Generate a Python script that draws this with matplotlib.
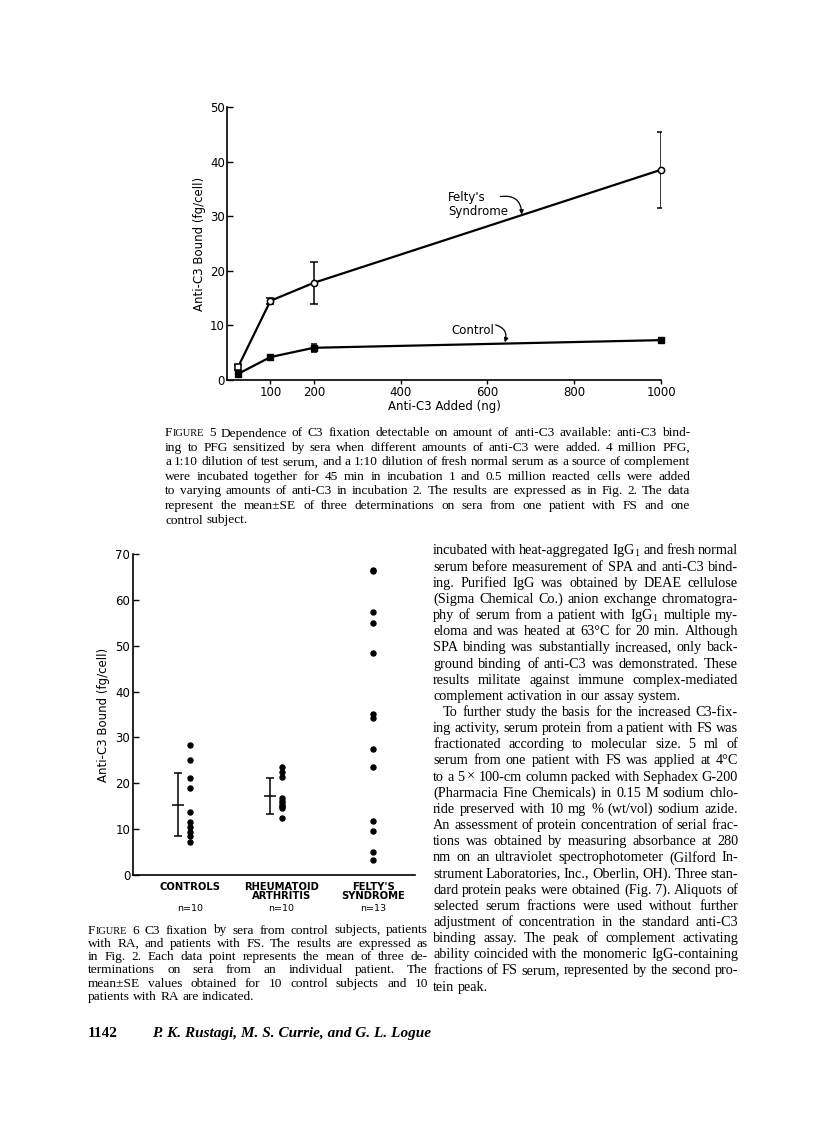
import matplotlib
matplotlib.use('Agg')
import matplotlib.pyplot as plt
import numpy as np

plt.rcParams['mathtext.fontset'] = 'custom'
plt.rcParams['mathtext.rm'] = 'Liberation Serif'
plt.rcParams['mathtext.it'] = 'Liberation Serif:italic'

# Figure 5: anti-C3 bound vs anti-C3 added (mean +- SE)
added_ng = [25, 100, 200, 1000]
felty_mean = [2.3, 14.5, 17.8, 38.5]
felty_se = [0.4, 0.6, 3.9, 7.0]
control_mean = [1.1, 4.2, 5.9, 7.3]
control_se = [0.3, 0.3, 0.7, 0.4]
fig5_xticks = [100, 200, 400, 600, 800, 1000]

# Figure 6: anti-C3 bound per patient group
group_names = ['CONTROLS', 'RHEUMATOID\nARTHRITIS', "FELTY'S\nSYNDROME"]
group_n = ['n=10', 'n=10', 'n=13']
controls = [28.3, 25.1, 21.1, 18.9, 13.8, 11.5, 10.5, 9.3, 8.6, 7.2]
ra = [23.6, 22.5, 21.4, 16.9, 16.2, 15.6, 15.1, 15.0, 14.7, 12.4]
fs = [66.6, 66.2, 57.4, 54.9, 48.5, 35.1, 34.3, 27.5, 23.6, 11.8, 9.6, 5.1, 3.2]
group_mean = [15.3, 17.2]
group_se = [6.9, 3.85]

caption5 = [
    "FIGURE 5  Dependence of C3 fixation detectable on amount of anti-C3 available: anti-C3 bind-",
    "ing to PFG sensitized by sera when different amounts of anti-C3 were added. 4 million PFG,",
    "a 1:10 dilution of test serum, and a 1:10 dilution of fresh normal serum as a source of complement",
    "were incubated together for 45 min in incubation 1 and 0.5 million reacted cells were added",
    "to varying amounts of anti-C3 in incubation 2. The results are expressed as in Fig. 2. The data",
    "represent the mean\u00b1SE of three determinations on sera from one patient with FS and one",
    "control subject.",
]
caption6 = [
    "FIGURE 6  C3 fixation by sera from control subjects, patients",
    "with RA, and patients with FS. The results are expressed as",
    "in Fig. 2. Each data point represents the mean of three de-",
    "terminations on sera from an individual patient. The",
    "mean\u00b1SE values obtained for 10 control subjects and 10",
    "patients with RA are indicated.",
]
body = [
    "incubated with heat-aggregated IgG$_1$ and fresh normal",
    "serum before measurement of SPA and anti-C3 bind-",
    "ing. Purified IgG was obtained by DEAE cellulose",
    "(Sigma Chemical Co.) anion exchange chromatogra-",
    "phy of serum from a patient with IgG$_1$ multiple my-",
    "eloma and was heated at 63\u00b0C for 20 min. Although",
    "SPA binding was substantially increased, only back-",
    "ground binding of anti-C3 was demonstrated. These",
    "results militate against immune complex-mediated",
    "complement activation in our assay system.",
    "To further study the basis for the increased C3-fix-",
    "ing activity, serum protein from a patient with FS was",
    "fractionated according to molecular size. 5 ml of",
    "serum from one patient with FS was applied at 4\u00b0C",
    "to a 5 \u00d7 100-cm column packed with Sephadex G-200",
    "(Pharmacia Fine Chemicals) in 0.15 M sodium chlo-",
    "ride preserved with 10 mg % (wt/vol) sodium azide.",
    "An assessment of protein concentration of serial frac-",
    "tions was obtained by measuring absorbance at 280",
    "nm on an ultraviolet spectrophotometer (Gilford In-",
    "strument Laboratories, Inc., Oberlin, OH). Three stan-",
    "dard protein peaks were obtained (Fig. 7). Aliquots of",
    "selected serum fractions were used without further",
    "adjustment of concentration in the standard anti-C3",
    "binding assay. The peak of complement activating",
    "ability coincided with the monomeric IgG-containing",
    "fractions of FS serum, represented by the second pro-",
    "tein peak.",
]
body_last = [9, 27]
body_indent = [10]

W, H = 816, 1122
fig = plt.figure(figsize=(W / 100, H / 100), dpi=100)
renderer = fig.canvas.get_renderer()


def box(l, t, r, b):
    return [l / W, 1 - b / H, (r - l) / W, (b - t) / H]


def pieces(word, size):
    if word == 'FIGURE':
        return [('F', size), ('IGURE', size * 0.78)]
    return [(word, size)]


def width(s, size, **kw):
    t = fig.text(0, 0, s, fontsize=size, **kw)
    w = t.get_window_extent(renderer).width
    t.remove()
    return w


def put_line(line, x0, x1, y, size, justify=True, **kw):
    words = line.split()
    while True:
        parts = [pieces(w, size) for w in words]
        widths = [[width(s, sz, **kw) for s, sz in p] for p in parts]
        total = sum(sum(w) for w in widths)
        space = width('n n', size, **kw) - width('nn', size, **kw)
        # shrink a line that cannot fit with tight spacing
        if not justify or total + 0.6 * space * (len(words) - 1) <= x1 - x0:
            break
        size *= 0.98
    gap = space
    if justify and len(words) > 1:
        gap = (x1 - x0 - total) / (len(words) - 1)
    x = x0
    for p, ws in zip(parts, widths):
        for (s, sz), w in zip(p, ws):
            fig.text(x / W, 1 - (y + 3.5) / H, s, fontsize=sz,
                     ha='left', va='baseline', **kw)
            x += w
        x += gap


serif = dict(family='Liberation Serif')

# ---- Figure 5 ----
ax1 = fig.add_axes(box(227, 107, 661, 380))
ax1.plot(added_ng, felty_mean, color='black', lw=1.6)
ax1.plot(added_ng, control_mean, color='black', lw=1.6)
ax1.errorbar(added_ng, felty_mean, yerr=felty_se, fmt='none', ecolor='black',
             elinewidth=1.1, capsize=3, capthick=1.1)
ax1.errorbar(added_ng, control_mean, yerr=control_se, fmt='none', ecolor='black',
             elinewidth=1.1, capsize=2.5, capthick=1.1)
ax1.plot(added_ng[:1], felty_mean[:1], 's', mfc='white', mec='black', ms=4.5,
         mew=1.1, clip_on=False, zorder=4)
ax1.plot(added_ng[1:], felty_mean[1:], 'o', mfc='white', mec='black', ms=4.5,
         mew=1.1, clip_on=False, zorder=4)
ax1.plot(added_ng, control_mean, 's', color='black', ms=4.5, clip_on=False, zorder=4)

ax1.text(509, 32.1, "Felty's\nSyndrome", fontsize=8.5, ha='left', va='center',
         linespacing=1.05)
ax1.annotate('', xy=(679, 30.3), xytext=(630, 33.6),
             arrowprops=dict(arrowstyle='-|>', connectionstyle='arc3,rad=-0.55',
                             lw=0.9, color='black', mutation_scale=6,
                             shrinkA=0, shrinkB=0))
ax1.text(518, 9.0, 'Control', fontsize=8.5, ha='left', va='center')
ax1.annotate('', xy=(640, 6.9), xytext=(619, 10.1),
             arrowprops=dict(arrowstyle='-|>', connectionstyle='arc3,rad=-0.5',
                             lw=0.9, color='black', mutation_scale=6,
                             shrinkA=0, shrinkB=0))

ax1.set_xlim(0, 1000)
ax1.set_ylim(0, 50)
ax1.set_xticks(fig5_xticks)
ax1.set_yticks(np.arange(0, 51, 10))
ax1.spines[['top', 'right']].set_visible(False)
for s in ax1.spines.values():
    s.set_linewidth(1.2)
ax1.tick_params(axis='y', direction='in', length=4, width=1, pad=1.5, labelsize=8.5)
ax1.tick_params(axis='x', direction='out', length=3, width=1, pad=1.5, labelsize=8.5)
ax1.set_xlabel('Anti-C3 Added (ng)', fontsize=8.5)
ax1.set_ylabel('Anti-C3 Bound (fg/cell)', fontsize=8.5)
ax1.xaxis.set_label_coords(0.5, -0.075)
ax1.yaxis.set_label_coords(-0.048, 0.5)

for i, line in enumerate(caption5):
    put_line(line, 165, 690, 433 + 14.5 * i, 9.6,
             justify=(i < len(caption5) - 1), **serif)

# ---- Figure 6 ----
ax2 = fig.add_axes(box(133, 554, 415, 875))
for i, vals in enumerate([controls, ra, fs]):
    ax2.plot([i] * len(vals), vals, 'o', color='black', ms=3.6, clip_on=False)
ax2.errorbar(np.arange(len(group_mean)) - 0.13, group_mean, yerr=group_se,
             fmt='_', color='black', ms=8, mew=1.1, elinewidth=1.1,
             capsize=3, capthick=1.1)

ax2.set_xlim(-0.623, 2.459)
ax2.set_ylim(0, 70)
ax2.set_yticks(np.arange(0, 71, 10))
ax2.set_xticks(range(len(group_names)))
ax2.set_xticklabels(group_names, family='DejaVu Sans', fontweight='bold',
                    fontsize=7.2, linespacing=0.9)
ax2.spines[['top', 'right']].set_visible(False)
for s in ax2.spines.values():
    s.set_linewidth(1.2)
ax2.tick_params(axis='x', length=0, pad=5)
ax2.tick_params(axis='y', direction='in', length=4, width=1, pad=2, labelsize=8.5)
ax2.set_ylabel('Anti-C3 Bound (fg/cell)', fontsize=8.5)
ax2.yaxis.set_label_coords(-0.082, 0.5)
for i, n in enumerate(group_n):
    ax2.text(i, -0.103, n, transform=ax2.get_xaxis_transform(), fontsize=6.8,
             ha='center', va='center')

for i, line in enumerate(caption6):
    put_line(line, 88, 428, 930 + 13.3 * i, 9.6,
             justify=(i < len(caption6) - 1), **serif)

# ---- right column text ----
for i, line in enumerate(body):
    x0 = 443 if i in body_indent else 433
    put_line(line, x0, 738, 551 + 16.15 * i, 10.3,
             justify=(i not in body_last), **serif)

# ---- page footer ----
fig.text(88 / W, 1 - 1037 / H, '1142', fontsize=11, fontweight='bold',
         va='baseline', **serif)
fig.text(152 / W, 1 - 1037 / H, 'P. K. Rustagi, M. S. Currie, and G. L. Logue',
         fontsize=11, fontweight='bold', style='italic', va='baseline', **serif)

fig.savefig('out.png', dpi=100, facecolor='white')
